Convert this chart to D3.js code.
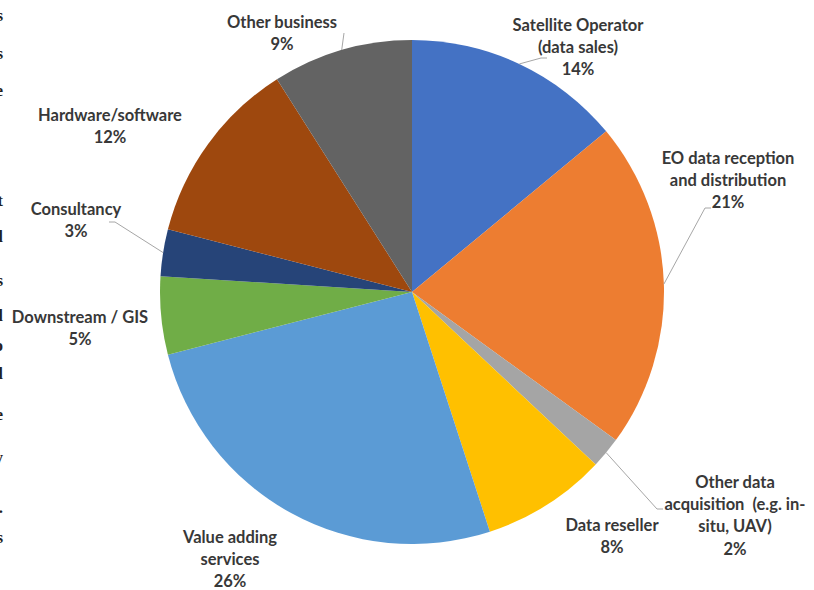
<!DOCTYPE html>
<html>
<head>
<meta charset="utf-8">
<script src="https://cdn.jsdelivr.net/npm/d3@7"></script>
<style>
  html, body { margin: 0; padding: 0; background: #fff; }
  svg { display: block; }
  text { font-family: Lato, "Open Sans", sans-serif; font-weight: 700; fill: #383838; white-space: pre; }
</style>
</head>
<body>
<svg id="chart" width="814" height="590"></svg>
<script>
// Business segments of the EO sector, share of companies (%)
const categories = [
  "Satellite Operator\n(data sales)",
  "EO data reception\nand distribution",
  "Other data\nacquisition  (e.g. in-\nsitu, UAV)",
  "Data reseller",
  "Value adding\nservices",
  "Downstream / GIS",
  "Consultancy",
  "Hardware/software",
  "Other business"
];
const shares = [14, 21, 2, 8, 26, 5, 3, 12, 9];
const colors = ["#4472C4", "#ED7D31", "#A5A5A5", "#FFC000", "#5B9BD5",
                "#70AD47", "#264478", "#9E480E", "#636363"];

// Characters of the neighbouring text column that spill into the left edge
const marginFragments = ["s", "s", "e", "t", "l", "s", "l", "o", "l", "e", "y", ".", "s"];

// Label block centres (first line) and leader-line end points
const labelPos = [
  [578, 25], [728, 158], [735, 482], [612, 525], [230, 537],
  [80, 317], [76, 209], [110, 115], [282, 22]
];
const leaderEnds = [
  [[541, 58], [547, 58]],
  [[705, 208], [711, 208]],
  [[657, 509], [663, 509]],
  null, null, null,
  [[115, 222], [109, 222]],
  null,
  [[344, 33], [344, 33]]
];

const svg = d3.select("#chart");
const cx = 412, cy = 292, R = 252;
const g = svg.append("g").attr("transform", `translate(${cx},${cy})`);

const pie = d3.pie().sort(null).value(d => d.value);
const arcs = pie(shares.map((v, i) => ({ value: v, i })));
const arc = d3.arc().innerRadius(0).outerRadius(R);
const edgeArc = d3.arc().innerRadius(R).outerRadius(R);

g.selectAll("path.slice")
  .data(arcs)
  .join("path")
  .attr("class", "slice")
  .attr("d", arc)
  .attr("fill", d => colors[d.data.i]);

// Leader lines from the slice edge to the label
svg.append("g").selectAll("polyline")
  .data(arcs.filter(d => leaderEnds[d.data.i]))
  .join("polyline")
  .attr("fill", "none")
  .attr("stroke", "#a6a6a6")
  .attr("stroke-width", 1)
  .attr("points", d => {
    const [px, py] = edgeArc.centroid(d);
    const pts = [[px + cx, py + cy], ...leaderEnds[d.data.i]];
    return pts.map(p => p.join(",")).join(" ");
  });

// Category + percentage labels
const lineH = 22.3;
const labels = svg.append("g").selectAll("text.lbl")
  .data(arcs)
  .join("text")
  .attr("class", "lbl")
  .attr("text-anchor", "middle")
  .attr("font-size", 16.5)
  .attr("x", d => labelPos[d.data.i][0])
  .attr("y", d => labelPos[d.data.i][1]);

labels.each(function(d) {
  const t = d3.select(this);
  const lines = categories[d.data.i].split("\n").concat([shares[d.data.i] + "%"]);
  lines.forEach((ln, k) => {
    t.append("tspan")
      .attr("x", labelPos[d.data.i][0])
      .attr("dy", k === 0 ? "0.35em" : lineH)
      .text(ln);
  });
});

// Cropped edge of the neighbouring column
const fragY = d3.scaleOrdinal()
  .domain(d3.range(marginFragments.length))
  .range([15, 53, 90, 200, 236, 280, 315, 345, 373, 414, 457, 507, 537]);
svg.append("g").selectAll("text.frag")
  .data(marginFragments)
  .join("text")
  .attr("class", "frag")
  .attr("text-anchor", "end")
  .attr("x", 3)
  .attr("y", (d, i) => fragY(i))
  .attr("dy", "0.35em")
  .attr("font-size", 17)
  .style("font-family", "'Liberation Serif', serif")
  .style("fill", "#222")
  .text(d => d);
</script>
</body>
</html>
